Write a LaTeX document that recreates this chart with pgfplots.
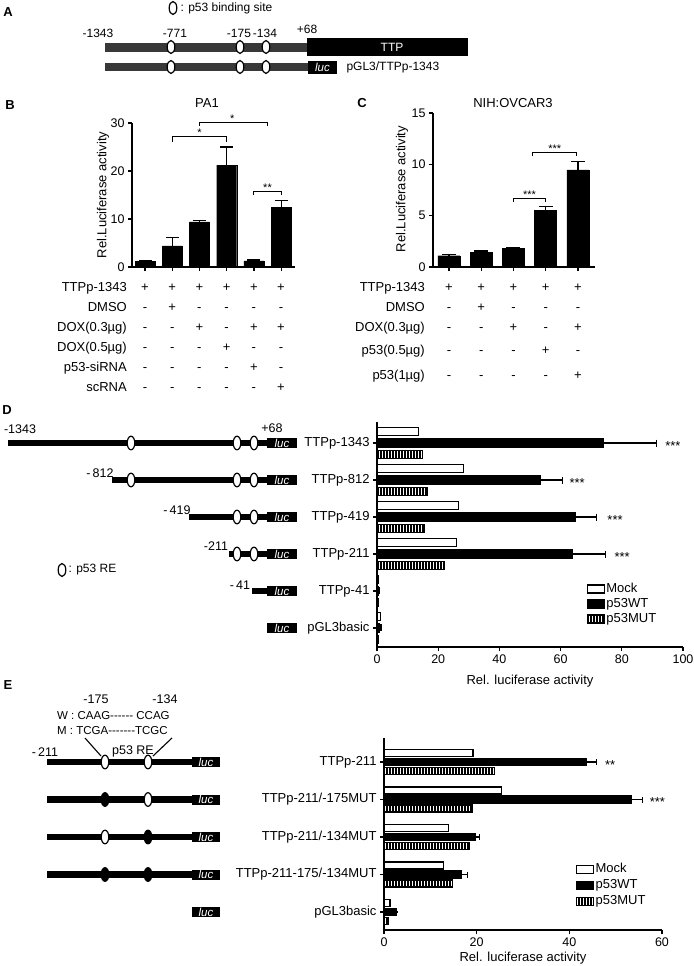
\documentclass[border=0pt]{standalone}
\usepackage{fontspec}
\setmainfont{Liberation Sans}
\usepackage{pgfplots}
\pgfplotsset{compat=1.18}
\usetikzlibrary{patterns.meta}
\newcommand\fs{\fontsize{13bp}{15bp}\selectfont}
\newcommand\fsa{\fontsize{12bp}{14bp}\selectfont}
\newcommand\fst{\fontsize{12.5bp}{14bp}\selectfont}
\newcommand\fss{\fontsize{11bp}{12bp}\selectfont}
\newcommand\fsw{\fontsize{11.5bp}{12bp}\selectfont}
\newcommand\fsl{\fontsize{11.5bp}{12bp}\selectfont\itshape}
\newcommand\pl{\fontsize{13bp}{15bp}\selectfont\bfseries}
\newcommand\signrow[4]{\foreach \s [count=\cc from 0] in {#4} {\node[anchor=base,font=\fs,inner sep=0pt] at ({#1+#2*\cc},{#3+4.6}) {\s};}}
\pgfplotsset{
 base/.style={scale only axis, anchor=south west, axis x line*=bottom, axis y line*=left,
   axis line style={line width=1.3bp}, every tick/.style={line width=1.2bp,black},
   major tick length=4bp, tick align=outside, tick label style={font=\fst},
   /pgf/number format/assume math mode=true, label style={font=\fs}, clip=false},
 hleg/.style={legend cell align=left,
   legend style={draw=none, fill=none, font=\fs, inner sep=0pt, row sep=0bp,
     nodes={inner sep=1.5bp, text height=9.3bp, text depth=2.7bp}},
   legend image code/.code={\draw[##1] (0bp,-4bp) rectangle (17bp,4bp);}},
 mock/.style={xbar, bar width=#1, fill=white, draw=black, line width=1.1bp},
 wt/.style={xbar, bar width=#1, fill=black, draw=black, line width=1.1bp},
 mut/.style={xbar, bar width=#1, draw=black, line width=1.1bp,
   pattern={Lines[angle=90,distance=3bp,line width=1.5bp]}, pattern color=black},
}
\begin{document}
\begin{tikzpicture}
\path[use as bounding box] (0,0) rectangle (694bp,-966bp);
\begin{scope}[x=1bp,y=-1bp]
% panel letters
\node[font=\pl] at (8,12) {A};
\node[font=\pl] at (10,105) {B};
\node[font=\pl] at (362,103) {C};
\node[font=\pl] at (7,410) {D};
\node[font=\pl] at (8,685) {E};
% ---------- panel A
\draw[fill=white,line width=1.2bp] (173,8) ellipse (3.8 and 6.5);
\node[anchor=west,font=\fsa] at (177,8) {: p53 binding site};
\fill[black!78] (105,43) rectangle (307,51.5);
\fill[black!78] (105,63.3) rectangle (308,71);
\fill (307,38) rectangle (468,56);
\node[white,font=\fsa] at (392,47) {TTP};
\foreach \x in {171,240,266} {
  \draw[fill=white,line width=1.2bp] (\x,47) ellipse (3.8 and 6.5);
  \draw[fill=white,line width=1.2bp] (\x,67) ellipse (3.8 and 6.5);}
\fill (308,60.5) rectangle (337,73.5);
\node[white,font=\fsl] at (322.5,67) {luc};
\node[anchor=west,font=\fsa] at (343,67) {pGL3/TTPp-1343};
\node[font=\fsa] at (98,33) {-1343};
\node[font=\fsa] at (175,33) {-771};
\node[font=\fsa] at (239,33) {-175};
\node[font=\fsa] at (265,33) {-134};
\node[font=\fsa] at (307,29) {+68};
% ---------- panel B titles and table
\node[font=\fs] at (207,103) {PA1};
\foreach \lab [count=\i from 0] in {TTPp-1343,DMSO,{DOX(0.3µg)},{DOX(0.5µg)},p53-siRNA,scRNA}
  \node[anchor=base east,font=\fs,inner sep=0pt] at (127,{287+20*\i+4.6}) {\lab};
\signrow{145}{27.2}{287}{+,+,+,+,+,+}
\signrow{145}{27.2}{307}{-,+,-,-,-,-}
\signrow{145}{27.2}{327}{-,-,+,-,+,+}
\signrow{145}{27.2}{347}{-,-,-,+,-,-}
\signrow{145}{27.2}{367}{-,-,-,-,+,-}
\signrow{145}{27.2}{387}{-,-,-,-,-,+}
% ---------- panel C titles and table
\node[font=\fs] at (513,103) {NIH:OVCAR3};
\foreach \lab/\yy in {TTPp-1343/287,DMSO/307,{DOX(0.3µg)}/327,{p53(0.5µg)}/350,{p53(1µg)}/375}
  \node[anchor=base east,font=\fs,inner sep=0pt] at (425,{\yy+4.6}) {\lab};
\signrow{449}{32.25}{287}{+,+,+,+,+}
\signrow{449}{32.25}{307}{-,+,-,-,-}
\signrow{449}{32.25}{327}{-,-,+,-,+}
\signrow{449}{32.25}{350}{-,-,-,+,-}
\signrow{449}{32.25}{375}{-,-,-,-,+}
% ---------- panel D schematic
\foreach \k/\s in {0/8,1/112,2/189,3/229,4/252}
  \fill (\s,{443+37*\k-3.3}) rectangle (267,{443+37*\k+3.3});
\foreach \k in {0,...,5} {
  \fill (267,{443+37*\k-5}) rectangle (297,{443+37*\k+5});
  \node[white,font=\fsl] at (282,{443+37*\k}) {luc};}
\foreach \k in {0,1} \draw[fill=white,line width=1.2bp] (131,{443+37*\k}) ellipse (3.8 and 6.8);
\foreach \k in {0,...,3} {
  \draw[fill=white,line width=1.2bp] (237,{443+37*\k}) ellipse (3.8 and 6.8);
  \draw[fill=white,line width=1.2bp] (254,{443+37*\k}) ellipse (3.8 and 6.8);}
\node[font=\fst] at (20,429) {-1343};
\node[font=\fst] at (272,428) {+68};
\node[font=\fst] at (100,473) {-\,812};
\node[font=\fst] at (177,510) {-\,419};
\node[font=\fst] at (216,546) {-211};
\node[font=\fst] at (240,585) {-\,41};
\draw[fill=white,line width=1.2bp] (62,570) ellipse (3.8 and 6.5);
\node[anchor=west,font=\fsa] at (65,570) {: p53 RE};
% ---------- panel E schematic
\node[font=\fst] at (96,699) {-175};
\node[font=\fst] at (165,699) {-134};
\node[anchor=west,font=\fsw,inner sep=0pt] at (57,716) {W : CAAG-{}-{}-{}-{}-{}- CCAG};
\node[anchor=west,font=\fsw,inner sep=0pt] at (57,731) {M : TCGA-{}-{}-{}-{}-{}-{}-TCGC};
\node[font=\fst] at (45,752) {-\,211};
\node[font=\fst] at (133,751) {p53 RE};
\draw[line width=1.1bp] (85,738) -- (101,756);
\draw[line width=1.1bp] (172,738) -- (153,756);
\foreach \k in {0,...,3} \fill (47,{762+37.5*\k-3.3}) rectangle (192,{762+37.5*\k+3.3});
\foreach \k in {0,...,4} {
  \fill (192,{762+37.5*\k-5}) rectangle (220,{762+37.5*\k+5});
  \node[white,font=\fsl] at (206,{762+37.5*\k}) {luc};}
\foreach \k/\fa/\fb in {0/white/white,1/black/white,2/white/black,3/black/black} {
  \draw[fill=\fa,line width=1.2bp] (105,{762+37.5*\k}) ellipse (3.8 and 6.8);
  \draw[fill=\fb,line width=1.2bp] (148,{762+37.5*\k}) ellipse (3.8 and 6.8);}
\end{scope}
% ================= panel B axis
\begin{axis}[base, at={(132bp,-267bp)}, width=163bp, height=144bp,
  xmin=0.52, xmax=6.51, ymin=0, ymax=30, ytick={0,10,20,30},
  xtick={1,...,6}, xticklabels={},
  ylabel={Rel.Luciferase activity},
  ylabel style={at={(axis description cs:-0.178,0.5)}, anchor=center}]
\addplot[ybar, bar width=20bp, fill=black, draw=black,
  error bars/.cd, y dir=plus, y explicit,
  error bar style={line width=1.2bp,black},
  error mark options={rotate=90,line width=1.2bp,black,mark size=6.5bp}]
  coordinates {(1,1.2)+-(0,0.15) (2,4.4)+-(0,1.8) (3,9.4)+-(0,0.25)
               (4,21.2)+-(0,3.8) (5,1.3)+-(0,0.15) (6,12.4)+-(0,1.4)};
\draw[line width=1bp] (axis cs:2,26.0) -- (axis cs:2,27.1) -- (axis cs:4,27.1) -- (axis cs:4,26.0);
\node[font=\fss,anchor=base,inner sep=0pt] at (axis cs:3,27.1) {*};
\draw[line width=1bp] (axis cs:3,29.4) -- (axis cs:3,30.2) -- (axis cs:5.49,30.2) -- (axis cs:5.49,29.4);
\node[font=\fss,anchor=base,inner sep=0pt] at (axis cs:4.2,30.2) {*};
\draw[line width=1bp] (axis cs:5,15.0) -- (axis cs:5,15.8) -- (axis cs:6.03,15.8) -- (axis cs:6.03,15.0);
\node[font=\fss,anchor=base,inner sep=0pt] at (axis cs:5.5,15.8) {**};
\end{axis}
% ================= panel C axis
\begin{axis}[base, at={(433bp,-267bp)}, width=162bp, height=154bp,
  xmin=0.505, xmax=5.53, ymin=0, ymax=15, ytick={0,5,10,15},
  xtick={1,...,5}, xticklabels={},
  ylabel={Rel.Luciferase activity},
  ylabel style={at={(axis description cs:-0.191,0.506)}, anchor=center}]
\addplot[ybar, bar width=22bp, fill=black, draw=black,
  error bars/.cd, y dir=plus, y explicit,
  error bar style={line width=1.2bp,black},
  error mark options={rotate=90,line width=1.2bp,black,mark size=7bp}]
  coordinates {(1,1.1)+-(0,0.12) (2,1.4)+-(0,0.15) (3,1.85)+-(0,0.05)
               (4,5.55)+-(0,0.38) (5,9.45)+-(0,0.8)};
\draw[line width=1bp] (axis cs:3,6.33) -- (axis cs:3,6.72) -- (axis cs:4,6.72) -- (axis cs:4,6.33);
\node[font=\fss,anchor=base,inner sep=0pt] at (axis cs:3.5,6.72) {***};
\draw[line width=1bp] (axis cs:3.6,10.8) -- (axis cs:3.6,11.2) -- (axis cs:4.96,11.2) -- (axis cs:4.96,10.8);
\node[font=\fss,anchor=base,inner sep=0pt] at (axis cs:4.28,11.2) {***};
\end{axis}
% ================= panel D axis
\begin{axis}[base, hleg, at={(377bp,-647bp)}, width=306bp, height=225bp,
  xmin=0, xmax=100, xtick={0,20,...,100},
  ymin=-5.514, ymax=0.568, ytick={-5,...,0},
  yticklabels={pGL3basic,TTPp-41,TTPp-211,TTPp-419,TTPp-812,TTPp-1343},
  yticklabel style={font=\fs},
  xlabel={Rel. luciferase activity},
  xlabel style={at={(axis description cs:0.5,-0.151)}, anchor=center},
  legend style={at={(axis description cs:0.685,0.191)}, anchor=west}]
\addplot[mock=8bp, bar shift=11.5bp,
  error bars/.cd, x dir=plus, x explicit, error bar style={line width=1.1bp,black},
  error mark options={rotate=90,line width=1.1bp,black,mark size=3.5bp}]
  coordinates {(13.5,0)+-(1.9,0) (28.2,-1)+-(2.5,0) (26.6,-2)+-(4.0,0)
               (26.0,-3)+-(4.0,0) (0.4,-4)+-(0.05,0) (1.2,-5)+-(0.1,0)};
\addplot[wt=8bp, bar shift=0bp,
  error bars/.cd, x dir=plus, x explicit, error bar style={line width=1.1bp,black},
  error mark options={rotate=90,line width=1.1bp,black,mark size=3.5bp}]
  coordinates {(74.0,0)+-(17.2,0) (53.3,-1)+-(7.3,0) (64.7,-2)+-(7.1,0)
               (64.0,-3)+-(10.8,0) (0.6,-4)+-(0.05,0) (0.9,-5)+-(0.1,0)};
\addplot[mut=8bp, bar shift=-11.5bp,
  error bars/.cd, x dir=plus, x explicit, error bar style={line width=1.1bp,black},
  error mark options={rotate=90,line width=1.1bp,black,mark size=3.5bp}]
  coordinates {(14.9,0)+-(2.4,0) (16.5,-1)+-(1.9,0) (15.5,-2)+-(2.4,0)
               (22.2,-3)+-(3.3,0) (0.4,-4)+-(0.05,0) (0.6,-5)+-(0.1,0)};
\legend{Mock,p53WT,p53MUT}
\node[font=\fs] at (axis cs:96.7,0) [yshift=-3bp] {***};
\node[font=\fs] at (axis cs:65.4,-1) [yshift=-3bp] {***};
\node[font=\fs] at (axis cs:77.8,-2) [yshift=-3bp] {***};
\node[font=\fs] at (axis cs:80.1,-3) [yshift=-3bp] {***};
\end{axis}
% ================= panel E axis
\begin{axis}[base, hleg, at={(384bp,-930bp)}, width=278bp, height=192bp,
  xmin=0, xmax=60, xtick={0,20,40,60},
  ymin=-4.48, ymax=0.64, ytick={-4,...,0},
  yticklabels={pGL3basic,TTPp-211-175/-134MUT,TTPp-211/-134MUT,TTPp-211/-175MUT,TTPp-211},
  yticklabel style={font=\fs},
  xlabel={Rel. luciferase activity},
  xlabel style={at={(axis description cs:0.5,-0.146)}, anchor=center},
  legend style={at={(axis description cs:0.69,0.234)}, anchor=west,
    nodes={inner sep=1.5bp, text height=10bp, text depth=3bp}}]
\addplot[mock=7bp, bar shift=9bp,
  error bars/.cd, x dir=plus, x explicit, error bar style={line width=1.1bp,black},
  error mark options={rotate=90,line width=1.1bp,black,mark size=3bp}]
  coordinates {(19.2,0)+-(1.4,0) (25.4,-1)+-(3.0,0) (14.0,-2)+-(1.0,0)
               (12.8,-3)+-(0.6,0) (1.3,-4)+-(0.05,0)};
\addplot[wt=7bp, bar shift=0bp,
  error bars/.cd, x dir=plus, x explicit, error bar style={line width=1.1bp,black},
  error mark options={rotate=90,line width=1.1bp,black,mark size=3bp}]
  coordinates {(43.8,0)+-(2.1,0) (53.5,-1)+-(2.2,0) (19.8,-2)+-(0.8,0)
               (16.8,-3)+-(1.3,0) (2.7,-4)+-(0.05,0)};
\addplot[mut=7bp, bar shift=-9bp,
  error bars/.cd, x dir=plus, x explicit, error bar style={line width=1.1bp,black},
  error mark options={rotate=90,line width=1.1bp,black,mark size=3bp}]
  coordinates {(23.8,0)+-(2.5,0) (19.1,-1)+-(1.6,0) (18.4,-2)+-(0.9,0)
               (14.8,-3)+-(0.6,0) (0.95,-4)+-(0.05,0)};
\legend{Mock,p53WT,p53MUT}
\node[font=\fs] at (axis cs:48.8,0) [yshift=-3bp] {**};
\node[font=\fs] at (axis cs:59,-1) [yshift=-3bp] {***};
\end{axis}
\end{tikzpicture}
\end{document}
